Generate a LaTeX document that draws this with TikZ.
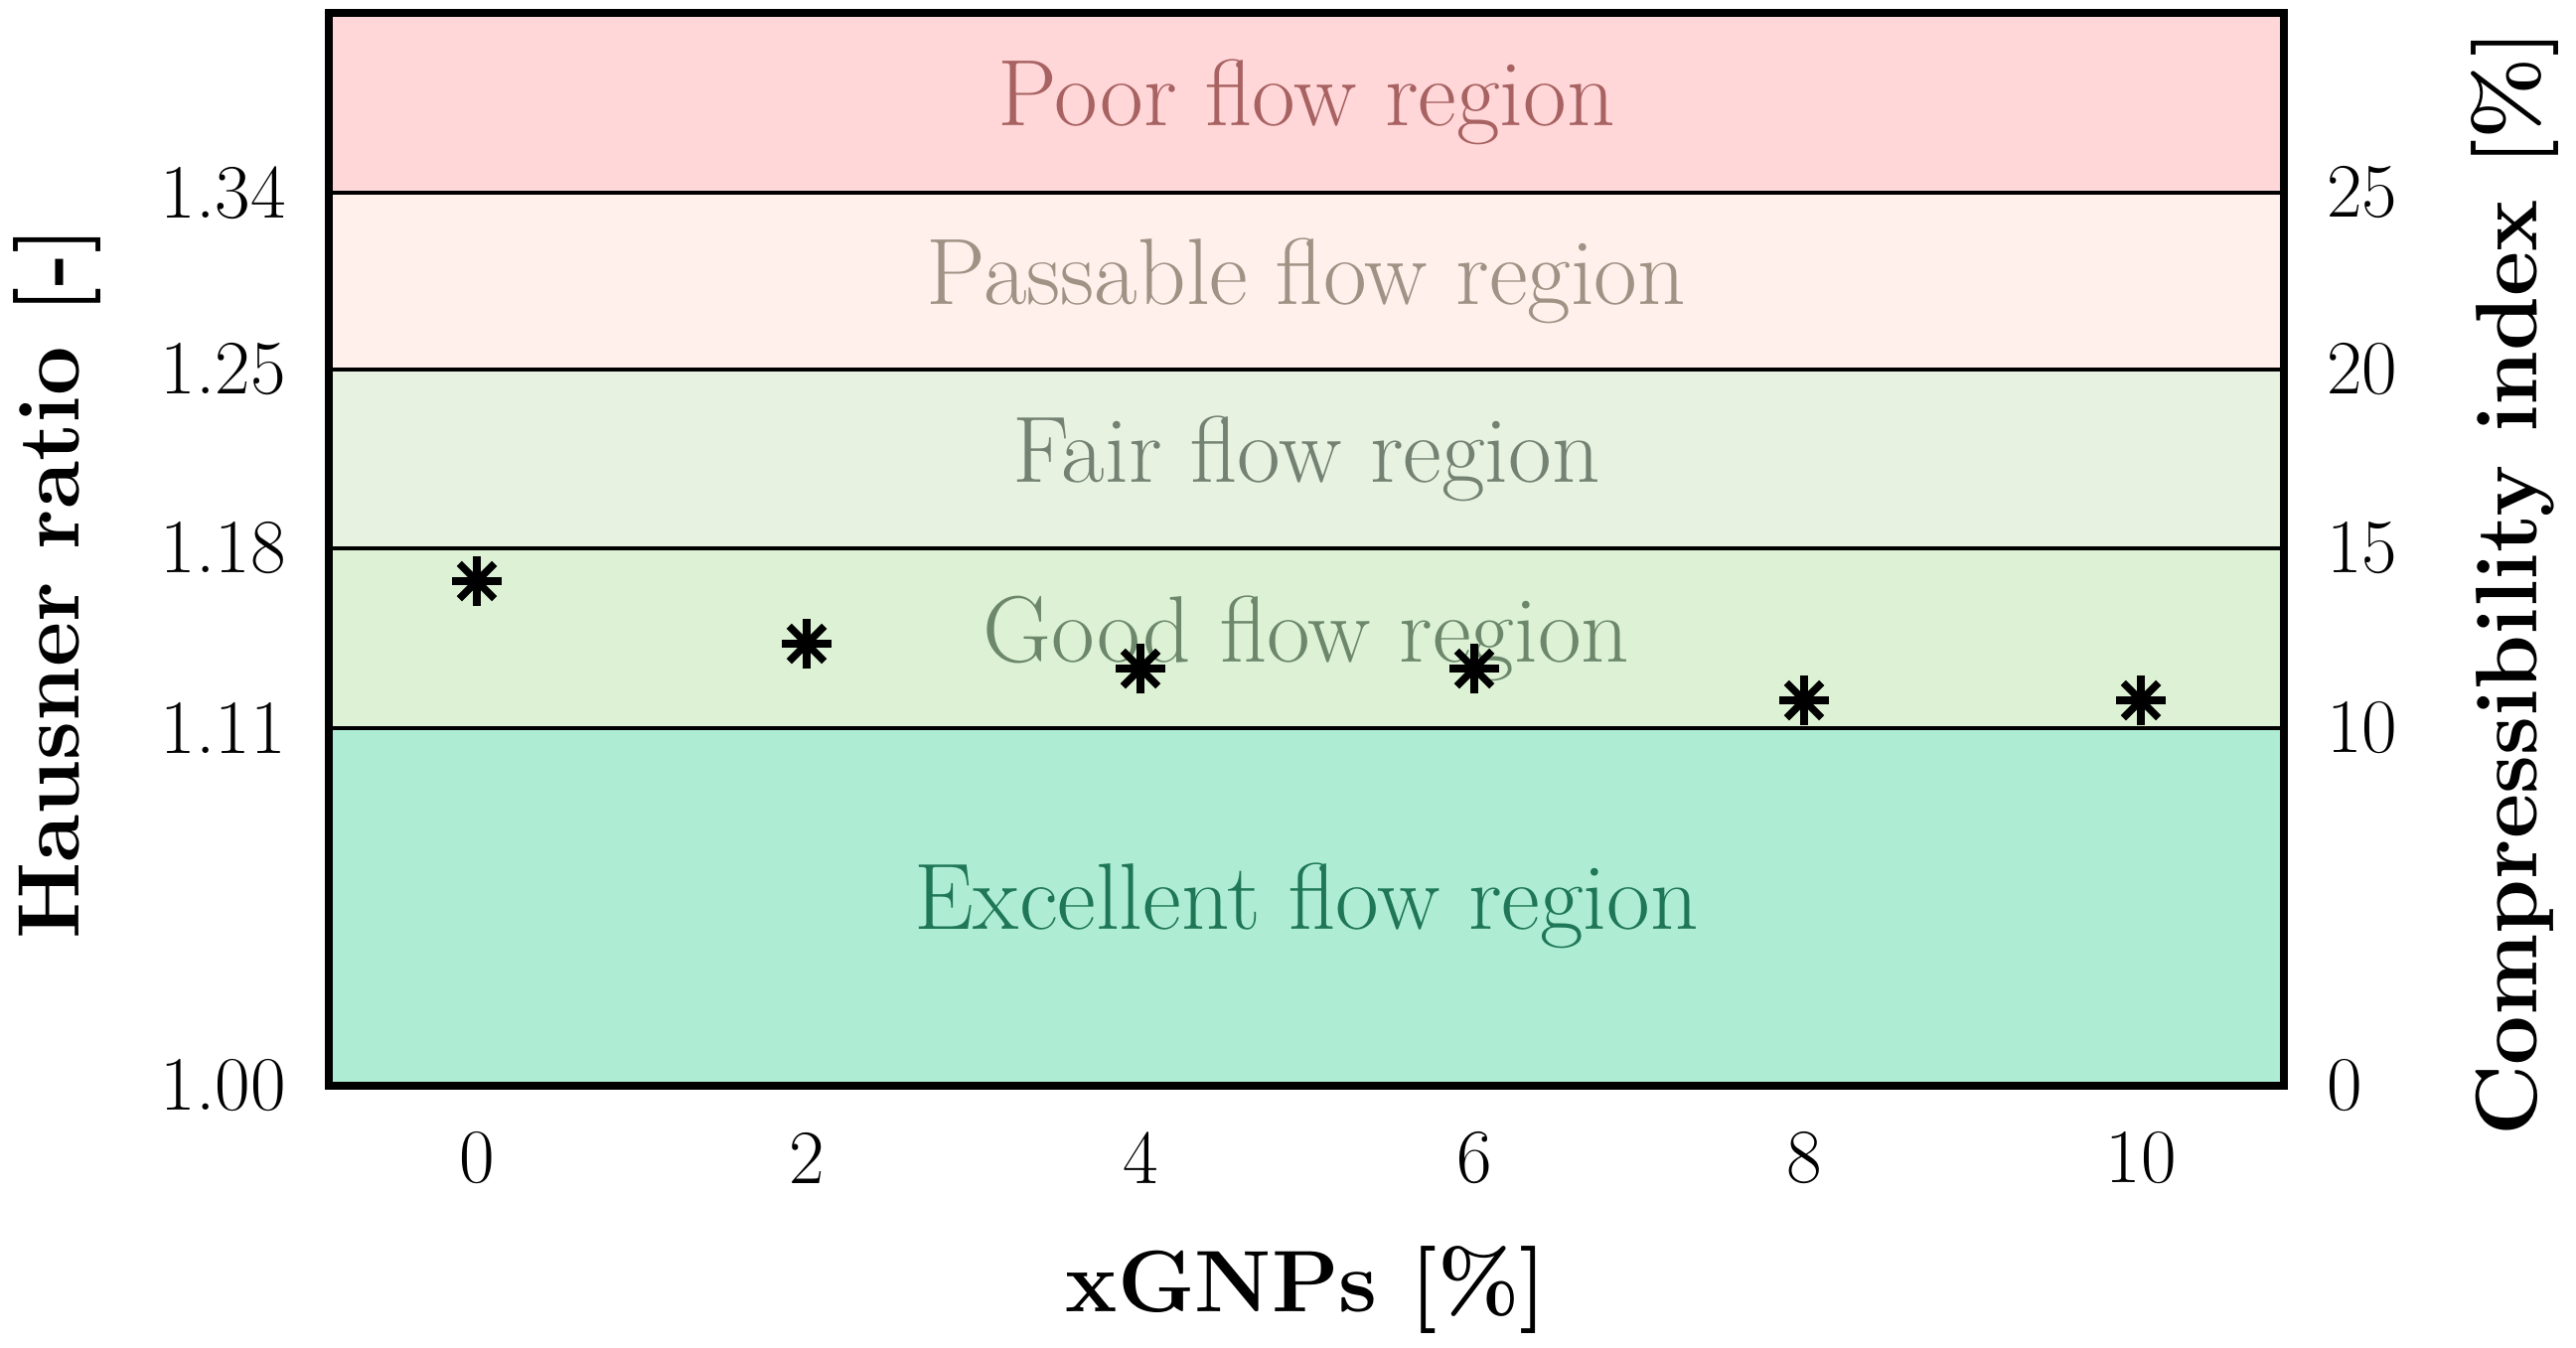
\documentclass[tikz,border=0pt]{standalone}
\usetikzlibrary{calc}
\begin{document}
\begin{tikzpicture}[x=0.01cm,y=-0.01cm,
  band/.style={draw=black,line width=2.2pt},
  bt/.style={font=\fontsize{27}{30}\selectfont},
  tick/.style={font=\fontsize{22}{26}\selectfont},
  ttl/.style={font=\fontsize{25}{28}\selectfont\bfseries},
  mk/.style={line width=2.1pt}]
\useasboundingbox (0,0) rectangle (2593,1356);
\definecolor{cP}{HTML}{FFD7D8}\definecolor{tP}{HTML}{A86262}
\definecolor{cS}{HTML}{FFF0EC}\definecolor{tS}{HTML}{A09284}
\definecolor{cF}{HTML}{E7F2E1}\definecolor{tF}{HTML}{738273}
\definecolor{cG}{HTML}{DDF2D5}\definecolor{tG}{HTML}{6C876C}
\definecolor{cE}{HTML}{AEEDD3}\definecolor{tE}{HTML}{1F7758}
\fill[cP] (331,13) rectangle (2299,194);
\fill[cS] (331,194) rectangle (2299,372);
\fill[cF] (331,372) rectangle (2299,552);
\fill[cG] (331,552) rectangle (2299,733);
\fill[cE] (331,733) rectangle (2299,1093);
\foreach \y in {194,372,552,733} \draw[line width=1.2pt] (331,\y) -- (2299,\y);
\draw[band] (331,13) rectangle (2299,1093);
\node[bt,text=tP] (t1) at (1315,103) {Poor flow region};
\node[bt,text=tS] (t2) at (1315,283) {Passable flow region};
\node[bt,text=tF] (t3) at (1315,462) {Fair flow region};
\node[bt,text=tG] (t4) at (1315,643) {Good flow region};
\node[bt,text=tE] (t5) at (1315,912) {Excellent flow region};
\foreach \x/\y [count=\i] in {480/585,812/648,1148/673,1484/673,1816/705,2155/705}{
  \coordinate (m\i) at (\x,\y);
  \foreach \a in {0,45,90,135} \draw[mk] ($(m\i)+(\a:25)$) -- ($(m\i)+(\a+180:25)$);
}
\foreach \v/\y [count=\i] in {1.34/194,1.25/372,1.18/552,1.11/733,1.00/1093}
  \node[tick,anchor=east] (l\i) at (300,\y) {\v};
\foreach \v/\y [count=\i] in {25/194,20/372,15/552,10/733,0/1093}
  \node[tick,anchor=west] (r\i) at (2330,\y) {\v};
\foreach \v/\x [count=\i] in {0/480,2/812,4/1148,6/1484,8/1816,10/2155}
  \node[tick] (b\i) at (\x,1166) {\v};
\node[ttl,rotate=90] (yl) at (58,587) {Hausner ratio [-]};
\node[ttl,rotate=90] (yr) at (2531,587) {Compressibility index [\%]};
\node[ttl] (xl) at (1315,1298) {xGNPs [\%]};
\end{tikzpicture}
\end{document}
